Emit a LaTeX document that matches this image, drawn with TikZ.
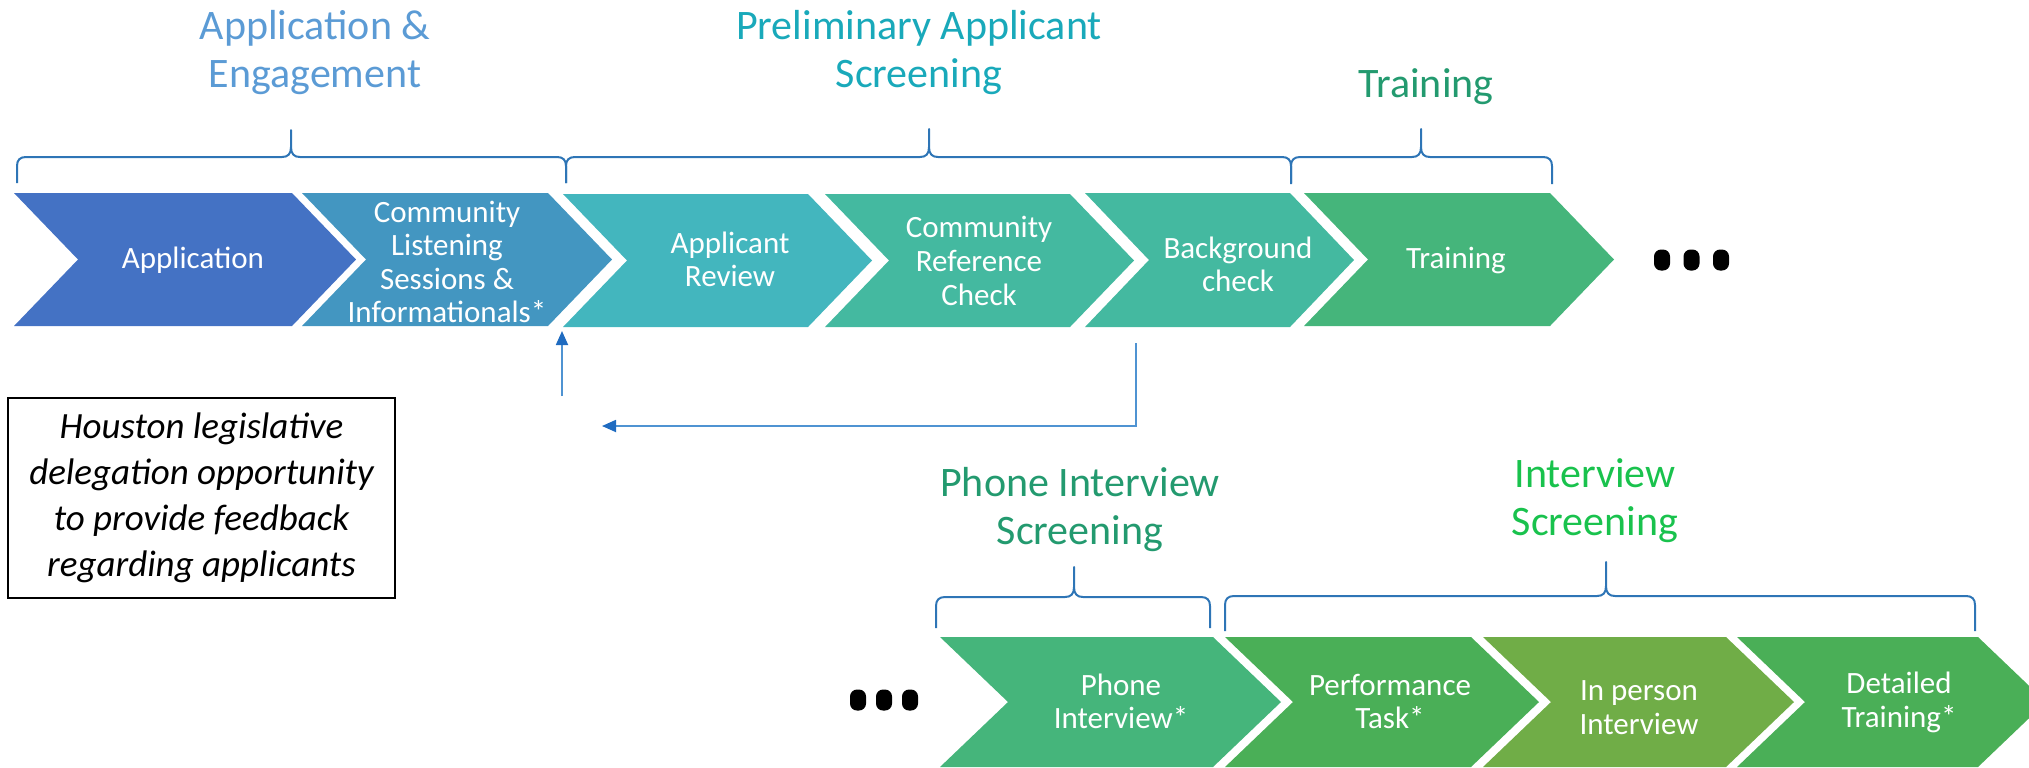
\documentclass[tikz,border=0pt]{standalone}
\usepackage{fontspec}
\setmainfont{Carlito}
\usetikzlibrary{arrows.meta}
\definecolor{chA}{HTML}{4472C4}
\definecolor{chB}{HTML}{4396C1}
\definecolor{chC}{HTML}{43B6BE}
\definecolor{chD}{HTML}{44B9A0}
\definecolor{chE}{HTML}{44B9A0}
\definecolor{chF}{HTML}{45B57B}
\definecolor{chG}{HTML}{45B57B}
\definecolor{chH}{HTML}{4AAF57}
\definecolor{chI}{HTML}{70AD47}
\definecolor{chJ}{HTML}{4AAF57}
\definecolor{tA}{HTML}{5B9BD5}
\definecolor{tB}{HTML}{19A9BA}
\definecolor{tC}{HTML}{239A6F}
\definecolor{tD}{HTML}{239A6F}
\definecolor{tE}{HTML}{19C24D}
\definecolor{braceblue}{HTML}{2E75B6}
\definecolor{fbline}{HTML}{4F93D2}
\definecolor{fbhead}{HTML}{1F6BC0}
\newcommand\chevronshape[6]{%
  \fill[#6] (#1,#3) -- (#2,#3) -- ({#2+#5},{(#3+#4)/2}) -- (#2,#4) -- (#1,#4) -- ({#1+#5},{(#3+#4)/2}) -- cycle;}
\newcommand\mybrace[6]{%
  \draw[bracestyle] (#1,#6) -- (#1,{#5+9}) .. controls (#1,{#5+3}) and ({#1+3},#5) .. ({#1+9},#5)
   -- ({#3-9},#5) .. controls ({#3-3},#5) and (#3,{#5-3}) .. (#3,{#5-10}) -- (#3,#4)
   -- (#3,{#5-10}) .. controls (#3,{#5-3}) and ({#3+3},#5) .. ({#3+9},#5)
   -- ({#2-9},#5) .. controls ({#2-3},#5) and (#2,{#5+3}) .. (#2,{#5+9}) -- (#2,#6);}
\newcommand\dotrow[3]{%
  \foreach \k in {0,1,2}{\fill[black,rounded corners=3.5pt] ({#1+\k*#3-8},{#2-10.5}) rectangle ({#1+\k*#3+8},{#2+10.5});}}
\begin{document}
\begin{tikzpicture}[x=0.5pt,y=-0.5pt,
  bracestyle/.style={draw=braceblue,line width=1pt,line join=round},
  chevtext/.style={text=white,align=center,font=\fontsize{15.5pt}{16.8pt}\selectfont,inner sep=0pt},
  titletext/.style={align=center,font=\fontsize{21pt}{24pt}\selectfont,inner sep=0pt},
  fb/.style={draw=fbline,line width=0.9pt,-{Triangle[length=7pt,width=6pt,color=fbhead]}}]
\useasboundingbox (0,0) rectangle (2029,767);
% top row chevrons
\chevronshape{14}{292}{193}{326}{64}{chA}
\chevronshape{302}{548}{193}{326}{64}{chB}
\chevronshape{563}{808}{194}{327}{64}{chC}
\chevronshape{825}{1070}{194}{327}{64}{chD}
\chevronshape{1085}{1290}{193}{327}{64}{chE}
\chevronshape{1304}{1550}{193}{326}{64}{chF}
% bottom row chevrons
\chevronshape{940}{1213}{637}{767}{68}{chG}
\chevronshape{1225}{1471}{637}{767}{68}{chH}
\chevronshape{1483}{1726}{637}{767}{68}{chI}
\chevronshape{1737}{1978}{637}{767}{68}{chJ}
% chevron texts
\node[chevtext] (application) at (193,260) {Application};
\node[chevtext] (listening) at (447,262) {Community\\Listening\\Sessions \&\\Informationals*};
\node[chevtext] (review) at (730,259.5) {Applicant\\Review};
\node[chevtext] (reference) at (979,261) {Community\\Reference\\Check};
\node[chevtext] (background) at (1238,264.5) {Background\\check};
\node[chevtext] (training) at (1456,260) {Training};
\node[chevtext] (phone) at (1121,701.5) {Phone\\Interview*};
\node[chevtext] (performance) at (1390,701.5) {Performance\\Task*};
\node[chevtext] (inperson) at (1639,707.5) {In person\\Interview};
\node[chevtext] (detailed) at (1899,702.5) {Detailed\\Training*};
% braces
\mybrace{17}{566}{291}{130}{157}{183}
\mybrace{566}{1291}{929}{129}{157}{183}
\mybrace{1291}{1552}{1421}{129}{157}{184}
\mybrace{936}{1210}{1074}{567}{597}{628}
\mybrace{1225}{1975}{1606}{562}{596}{631}
% titles
\node[titletext,text=tA] (titleA) at (315,53) {Application \&\\Engagement};
\node[titletext,text=tB] (titleB) at (919,53) {Preliminary Applicant\\Screening};
\node[titletext,text=tC] (titleC) at (1426,87) {Training};
\node[titletext,text=tD] (titleD) at (1080,510) {Phone Interview\\Screening};
\node[titletext,text=tE] (titleE) at (1595,501) {Interview\\Screening};
% dots
\dotrow{1662}{260}{29.5}
\dotrow{858}{700}{26}
% feedback arrows
\coordinate (fbstart) at (1136,343);
\coordinate (fbend) at (602,426);
\coordinate (upstart) at (562,396);
\coordinate (upend) at (562,331);
\draw[fb] (fbstart) |- (fbend);
\draw[fb] (upstart) -- (upend);
% box
\node[draw=black,line width=1.2pt,minimum width=193.5pt,minimum height=100pt,align=center,
  font=\fontsize{18.5pt}{23pt}\selectfont\itshape,inner sep=0pt] (houston) at (201.5,498)
  {Houston legislative\\delegation opportunity\\to provide feedback\\regarding applicants};
\end{tikzpicture}
\end{document}
